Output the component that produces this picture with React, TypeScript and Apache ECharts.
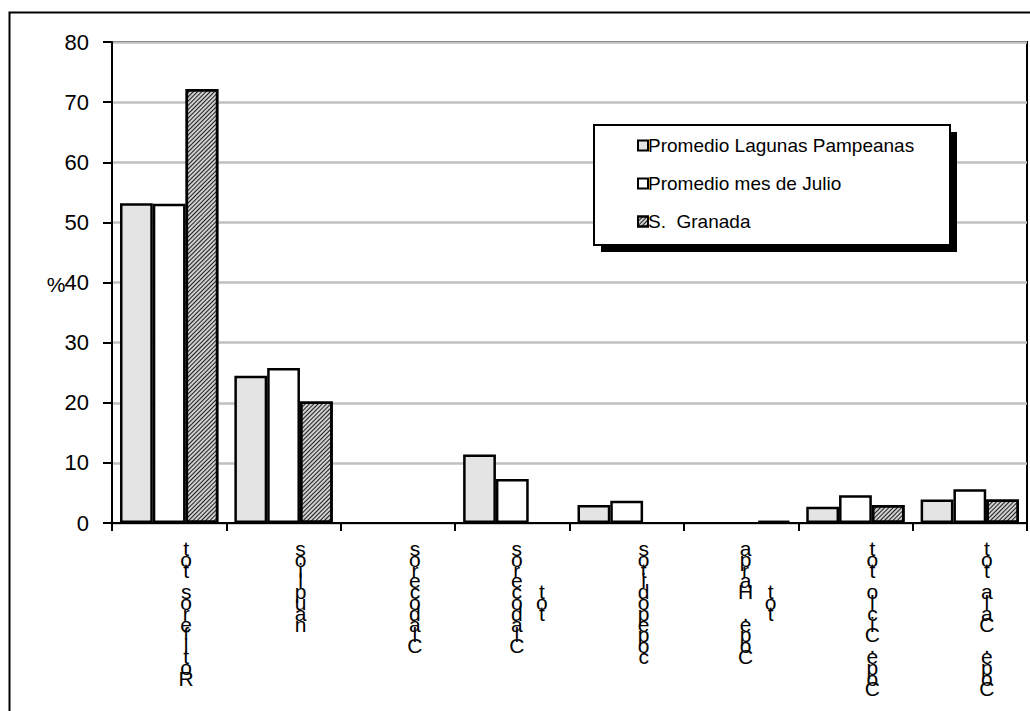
import React, { useEffect, useRef } from "react";
import * as echarts from "echarts";

const categories = [
  "Rotiferos tot",
  "nauplios",
  "Cladoceros",
  "Cladoceros tot",
  "copepoditos",
  "Cope. Harpa tot",
  "Cope.Ciclo tot",
  "Cope. Cala tot",
];
// label lines as wrapped in the reference
const labelLines: string[][] = [
  ["Rotiferos tot"],
  ["nauplios"],
  ["Cladoceros"],
  ["Cladoceros", "tot"],
  ["copepoditos"],
  ["Cope. Harpa", "tot"],
  ["Cope.Ciclo tot"],
  ["Cope. Cala tot"],
];
const seriesNames = ["Promedio Lagunas Pampeanas", "Promedio mes de Julio", "S.  Granada"];
const lagunas = [53.2, 24.5, 0, 11.4, 3.0, 0, 2.7, 3.9];
const julio = [53.1, 25.8, 0, 7.3, 3.7, 0, 4.6, 5.6];
const granada = [72.2, 20.2, 0, 0, 0, 0.3, 3.0, 3.9];
const yTicks = { min: 0, max: 80, interval: 10 };
const yAxisTitle = "%";

const FONT = "Liberation Sans, Arial, sans-serif";

function stackLabel(_v: string, idx: number): string {
  const lines = labelLines[idx] || [categories[idx]];
  const main = lines[0].split("").reverse();
  const sec = lines[1] ? lines[1].split("").reverse() : null;
  const rows: string[] = [];
  if (!sec) {
    main.forEach((ch) => rows.push(`{a|${ch}}`));
  } else {
    const off = Math.round((main.length - sec.length) / 2);
    main.forEach((ch, i) => {
      const s = sec[i - off];
      rows.push(`{a|${ch}}{b|${s !== undefined ? s : " "}}`);
    });
  }
  return rows.join("\n");
}

// zero-height bars are not drawn in the reference
const toBarData = (arr: number[]) => arr.map((v) => (v === 0 ? "-" : v));

export default function App() {
  const ref = useRef<HTMLDivElement>(null);
  useEffect(() => {
    const chart = echarts.init(ref.current!, null, { renderer: "svg" });
    const lh = 10.8;
    const barBorder = { borderColor: "#000", borderWidth: 2.5 };
    chart.setOption({
      animation: false,
      backgroundColor: "#fff",
      textStyle: { fontFamily: FONT, color: "#000" },
      grid: {
        left: 112,
        right: 3,
        top: 42,
        bottom: 188,
        show: true,
        borderColor: "#000",
        borderWidth: 2,
        containLabel: false,
      },
      legend: {
        orient: "vertical",
        left: 632,
        top: 131,
        itemWidth: 10,
        itemHeight: 10,
        itemGap: 19,
        icon: "rect",
        z: 20,
        textStyle: { fontSize: 19, fontFamily: FONT, color: "#000", padding: [0, 0, 0, -5] },
        data: seriesNames,
      },
      graphic: [
        {
          type: "rect",
          z: 10,
          shape: { x: 9.5, y: 12.5, width: 1060, height: 760 },
          style: { fill: "none", stroke: "#000", lineWidth: 2 },
        },
        {
          type: "rect",
          z: 10,
          shape: { x: 601, y: 132, width: 356, height: 120 },
          style: { fill: "#000" },
        },
        {
          type: "rect",
          z: 11,
          shape: { x: 594, y: 125, width: 356, height: 120 },
          style: { fill: "#fff", stroke: "#000", lineWidth: 2 },
        },
        {
          type: "text",
          z: 12,
          x: 56,
          y: 284,
          style: {
            text: yAxisTitle,
            fontSize: 21,
            fontFamily: FONT,
            fill: "#000",
            align: "center",
            verticalAlign: "middle",
          },
        },
      ],
      xAxis: {
        type: "category",
        data: categories,
        axisLine: { lineStyle: { color: "#000", width: 2 } },
        axisTick: { show: true, inside: false, length: 8, lineStyle: { color: "#000", width: 2 } },
        axisLabel: {
          interval: 0,
          margin: 20,
          color: "#000",
          formatter: stackLabel,
          padding: [0, 0, 0, 34],
          verticalAlign: "top",
          rich: {
            a: { fontSize: 21, lineHeight: lh, width: 25, align: "center", fontFamily: FONT, color: "#000" },
            b: { fontSize: 21, lineHeight: lh, width: 25, align: "center", fontFamily: FONT, color: "#000" },
          },
        },
      },
      yAxis: {
        type: "value",
        min: yTicks.min,
        max: yTicks.max,
        interval: yTicks.interval,
        axisLine: { show: true, lineStyle: { color: "#000", width: 2 } },
        axisTick: { show: true, inside: false, length: 9, lineStyle: { color: "#000", width: 2 } },
        axisLabel: { fontSize: 22, color: "#000", margin: 23, fontFamily: FONT },
        splitLine: { show: true, lineStyle: { color: "#c0c0c0", width: 2.5 } },
      },
      series: [
        {
          name: seriesNames[0],
          type: "bar",
          data: toBarData(lagunas),
          barGap: "0%",
          barCategoryGap: "14%",
          itemStyle: { color: "#e4e4e4", ...barBorder },
        },
        {
          name: seriesNames[1],
          type: "bar",
          data: toBarData(julio),
          barGap: "0%",
          barCategoryGap: "14%",
          itemStyle: { color: "#ffffff", ...barBorder },
        },
        {
          name: seriesNames[2],
          type: "bar",
          data: toBarData(granada),
          barGap: "0%",
          barCategoryGap: "14%",
          itemStyle: {
            color: "#cfcfcf",
            ...barBorder,
            decal: {
              symbol: "rect",
              symbolSize: 1,
              dashArrayX: [1, 0],
              dashArrayY: [1, 2],
              rotation: -Math.PI / 4,
              color: "rgba(0,0,0,0.85)",
            },
          },
        },
      ],
    });
    return () => chart.dispose();
  }, []);
  return (
    <div
      ref={ref}
      style={{ position: "fixed", left: 0, top: 0, width: 1030, height: 711 }}
    />
  );
}
